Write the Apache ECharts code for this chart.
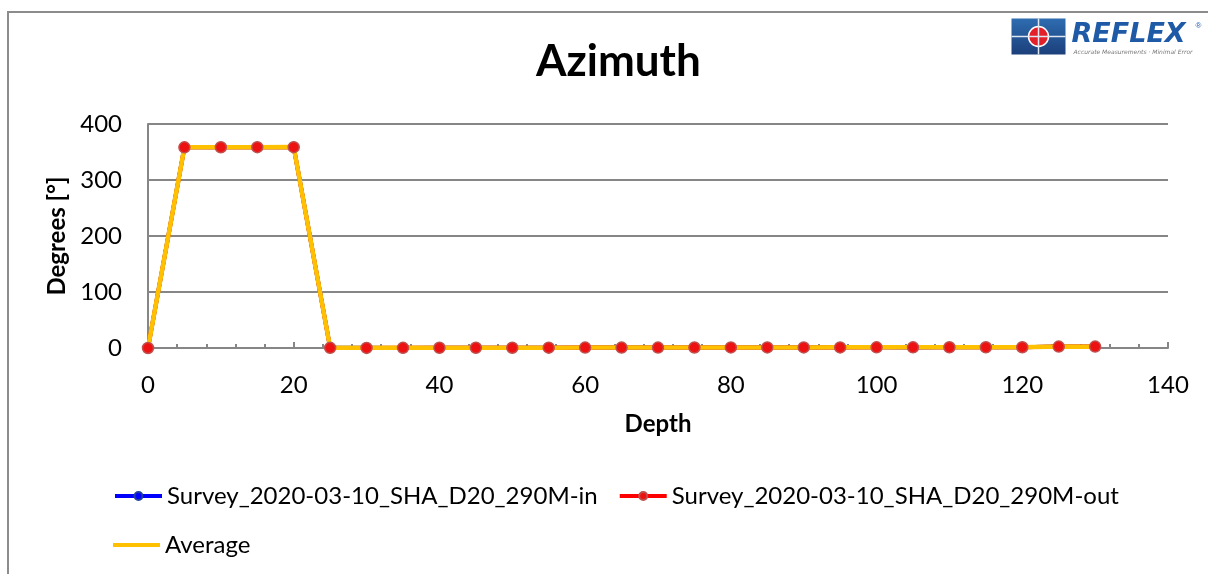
<!DOCTYPE html>
<html>
<head>
<meta charset="utf-8">
<script src="https://cdn.jsdelivr.net/npm/echarts@6/dist/echarts.min.js"></script>
<style>
  html, body { margin: 0; padding: 0; background: #fff; }
  #chart { width: 1208px; height: 574px; }
</style>
</head>
<body>
<div id="chart"></div>
<script>
// depth in metres, every 5 m
const depths = [0, 5, 10, 15, 20, 25, 30, 35, 40, 45, 50, 55, 60, 65, 70,
  75, 80, 85, 90, 95, 100, 105, 110, 115, 120, 125, 130];
const azimuthIn = [0, 358.6, 358.7, 358.6, 358.8, 0.4, 0.3, 0.2, 0.5, 0.3, 0.4, 0.5,
  0.8, 0.7, 0.9, 0.8, 1.0, 1.1, 1.0, 1.2, 1.3, 1.1, 1.2, 1.4, 1.5, 2.6, 2.4];
const azimuthOut = [0, 358.4, 358.5, 358.6, 358.7, 0.3, 0.2, 0.3, 0.4, 0.4, 0.5, 0.6,
  0.7, 0.8, 0.8, 0.9, 1.0, 1.0, 1.1, 1.1, 1.2, 1.2, 1.3, 1.3, 1.4, 2.5, 2.5];
const average = azimuthIn.map((v, i) => (v + azimuthOut[i]) / 2);

const seriesNames = [
  'Survey_2020-03-10_SHA_D20_290M-in',
  'Survey_2020-03-10_SHA_D20_290M-out',
  'Average'
];

const pairs = vals => depths.map((d, i) => [d, vals[i]]);
const font = 'Lato, "Noto Sans", sans-serif';
const grey = '#868686';

const chart = echarts.init(document.getElementById('chart'));

chart.setOption({
  animation: false,
  backgroundColor: '#fff',
  textStyle: { fontFamily: font },
  title: {
    text: 'Azimuth',
    left: 531,
    top: 35,
    textStyle: { fontSize: 44, fontWeight: 'bold', color: '#000', fontFamily: font }
  },
  grid: { left: 148, right: 40, top: 124, bottom: 226 },
  legend: [
    {
      data: [seriesNames[0], seriesNames[1]],
      left: 108,
      top: 479,
      itemWidth: 47,
      itemHeight: 10,
      itemGap: 20,
      lineStyle: { width: 4 },
      textStyle: { fontSize: 24, color: '#000', fontFamily: font }
    },
    {
      data: [{ name: seriesNames[2], icon: 'rect' }],
      left: 108,
      top: 528,
      itemWidth: 47,
      itemHeight: 4,
      textStyle: { fontSize: 24, color: '#000', fontFamily: font }
    }
  ],
  xAxis: {
    type: 'value',
    min: 0,
    max: 140,
    interval: 20,
    name: 'Depth',
    nameLocation: 'middle',
    nameGap: 64,
    nameTextStyle: { fontSize: 24, fontWeight: 'bold', color: '#000' },
    axisLine: { lineStyle: { color: grey, width: 2 } },
    axisTick: { show: true, inside: true, length: 6, lineStyle: { color: grey, width: 2 } },
    minorTick: { show: true, splitNumber: 5, length: 4, lineStyle: { color: grey, width: 2 } },
    splitLine: { show: false },
    axisLabel: { fontSize: 24, color: '#000', margin: 25 }
  },
  yAxis: {
    type: 'value',
    min: 0,
    max: 400,
    interval: 100,
    name: 'Degrees [°]',
    nameLocation: 'middle',
    nameGap: 78,
    nameTextStyle: { fontSize: 24, fontWeight: 'bold', color: '#000' },
    axisLine: { show: true, lineStyle: { color: grey, width: 2 } },
    axisTick: { show: false },
    splitLine: { lineStyle: { color: grey, width: 2 } },
    axisLabel: { fontSize: 24, color: '#000', margin: 26 }
  },
  series: [
    {
      name: seriesNames[0],
      type: 'line',
      data: pairs(azimuthIn),
      symbol: 'circle',
      symbolSize: 10,
      itemStyle: { color: '#0000ff', borderColor: '#1f3f9f', borderWidth: 1 },
      lineStyle: { color: '#0000ff', width: 4 }
    },
    {
      name: seriesNames[1],
      type: 'line',
      data: pairs(azimuthOut),
      symbol: 'circle',
      symbolSize: 11,
      itemStyle: { color: '#ee1111', borderColor: '#c0504d', borderWidth: 1.5 },
      lineStyle: { color: '#ff0000', width: 4 }
    },
    {
      name: seriesNames[2],
      type: 'line',
      data: pairs(average),
      symbol: 'none',
      itemStyle: { color: '#ffc000' },
      lineStyle: { color: '#ffc000', width: 4.5 }
    }
  ],
  graphic: [
    {
      type: 'rect',
      shape: { x: 8, y: 12, width: 1230, height: 600 },
      style: { fill: 'none', stroke: '#8c8c8c', lineWidth: 2 },
      silent: true
    },
    {
      type: 'group',
      left: 1009,
      top: 16,
      children: [
        {
          type: 'rect',
          shape: { x: 0, y: 0, width: 54, height: 36 },
          style: {
            fill: new echarts.graphic.LinearGradient(0, 0, 0, 1, [
              { offset: 0, color: '#2e6db0' },
              { offset: 1, color: '#1b3f7a' }
            ])
          }
        },
        {
          type: 'circle',
          shape: { cx: 27, cy: 18, r: 10 },
          style: { fill: '#e3202a', stroke: '#fff', lineWidth: 1.5 }
        },
        {
          type: 'line',
          shape: { x1: 0, y1: 18, x2: 54, y2: 18 },
          style: { stroke: '#dfe8f2', lineWidth: 1.5 }
        },
        {
          type: 'line',
          shape: { x1: 27, y1: 0, x2: 27, y2: 36 },
          style: { stroke: '#dfe8f2', lineWidth: 1.5 }
        },
        {
          type: 'text',
          x: 60,
          y: 3,
          style: {
            text: 'REFLEX',
            font: 'italic bold 27px "DejaVu Sans", sans-serif',
            fill: '#1f5aa6'
          }
        },
        {
          type: 'text',
          x: 184,
          y: 3,
          style: { text: '®', font: '8px sans-serif', fill: '#1f5aa6' }
        },
        {
          type: 'text',
          x: 62,
          y: 31,
          style: {
            text: 'Accurate Measurements · Minimal Error',
            font: 'italic 6px "DejaVu Sans", sans-serif',
            fill: '#777'
          }
        }
      ]
    }
  ]
});
</script>
</body>
</html>
